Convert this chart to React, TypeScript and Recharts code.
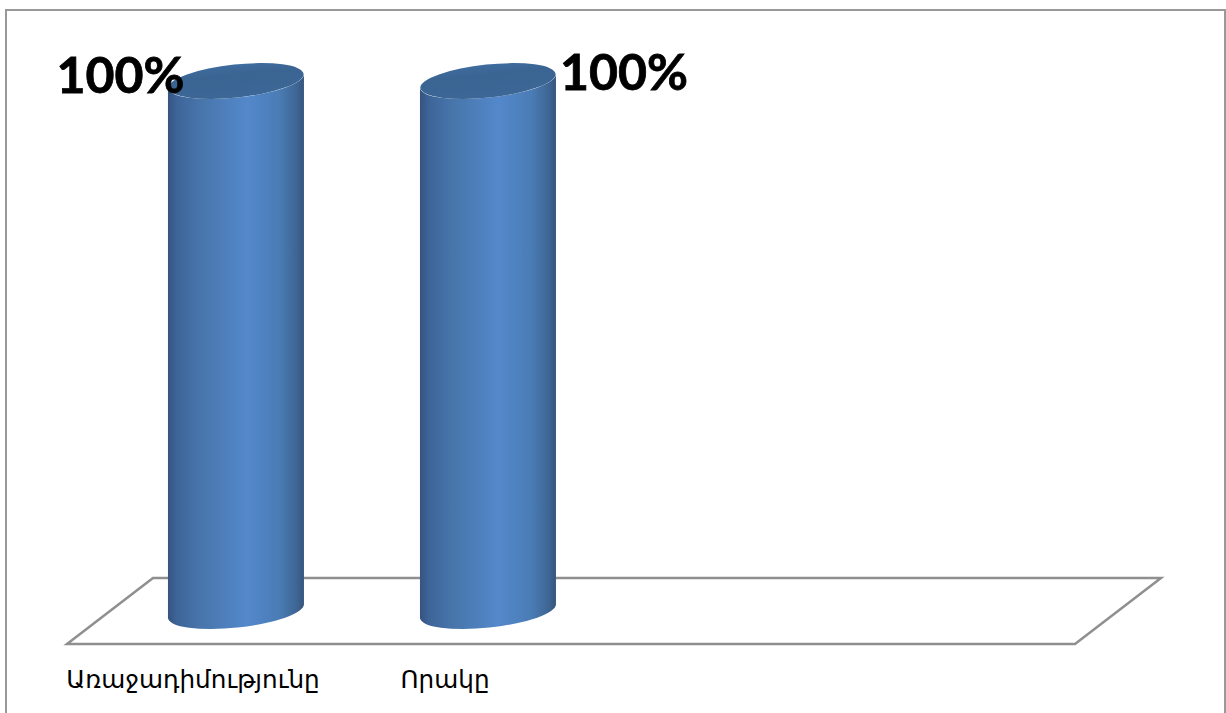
import { Bar, BarChart, LabelList, XAxis, YAxis, usePlotArea } from "recharts";

const categories = ["Առաջադիմությունը", "Որակը", "", ""];
const values = [1, 1, null, null];
const chartData = categories.map((name, i) => ({ name, value: values[i] }));

const DEPTH_X = 43;
const DEPTH_Y = 33;
const TILT = -6;
const RY = 16.5;

// floor plane of the 3D plot, skewed back to front
function Floor() {
  const plot = usePlotArea();
  if (!plot) return null;
  const bottom = plot.y + plot.height;
  const left = plot.x;
  const right = plot.x + plot.width;
  const points = [
    [left + DEPTH_X, bottom - DEPTH_Y],
    [right + DEPTH_X, bottom - DEPTH_Y],
    [right - DEPTH_X, bottom + DEPTH_Y],
    [left - DEPTH_X, bottom + DEPTH_Y],
  ]
    .map((p) => p.join(","))
    .join(" ");
  return <polygon points={points} fill="#ffffff" stroke="#8f8f8f" strokeWidth={2.5} />;
}

function Cylinder(props: any) {
  const { x, y, width, height } = props;
  if (height == null || height <= 0) return null;
  const cx = x + width / 2;
  const rx = width / 2;
  const rad = (TILT * Math.PI) / 180;
  const dy = Math.sin(rad) * rx;
  const yBottom = y + height;
  const body = `M ${x} ${y - dy} L ${x} ${yBottom - dy}
    A ${rx} ${RY} ${TILT} 0 0 ${x + width} ${yBottom + dy}
    L ${x + width} ${y + dy}
    A ${rx} ${RY} ${TILT} 0 1 ${x} ${y - dy} Z`;
  return (
    <g>
      <path d={body} fill="url(#cylBody)" />
      <ellipse
        cx={cx}
        cy={y}
        rx={rx}
        ry={RY}
        transform={`rotate(${TILT} ${cx} ${y})`}
        fill="url(#cylTop)"
      />
    </g>
  );
}

// the two labels were dragged by hand in the original, so each has its own offset
const labelShiftX = [-115.5, 136];
const labelShiftY = [12, 9];

function PercentLabel(props: any) {
  const { x, y, width, index } = props;
  return (
    <text
      x={x + width / 2 + labelShiftX[index]}
      y={y + labelShiftY[index]}
      textAnchor="middle"
      fontFamily="Lato, sans-serif"
      fontWeight={700}
      fontSize={50}
      stroke="#000000"
      strokeWidth={0.8}
      fill="#000000"
    >
      100%
    </text>
  );
}

function CategoryTick(props: any) {
  const { x, y, payload } = props;
  return (
    <text
      x={x - DEPTH_X}
      y={y}
      textAnchor="middle"
      fontFamily="'DejaVu Sans', sans-serif"
      fontSize={24.7}
      fill="#000000"
    >
      {payload.value}
    </text>
  );
}

export default function App() {
  return (
    <div style={{ position: "absolute", left: 0, top: 0, width: 1226, height: 713, background: "#ffffff" }}>
      <div
        style={{
          position: "absolute",
          left: 5,
          top: 9,
          width: 1221,
          height: 704,
          borderTop: "2px solid #999999",
          borderRight: "2px solid #999999",
          borderLeft: "2px solid #999999",
          boxSizing: "border-box",
        }}
      />
      <BarChart
        width={1226}
        height={713}
        data={chartData}
        margin={{ top: 81, right: 108, bottom: 0, left: 110 }}
        barCategoryGap="23%"
        style={{ position: "absolute", left: 0, top: 0 }}
      >
        <defs>
          <linearGradient id="cylBody" x1="0" x2="1" y1="0" y2="0">
            <stop offset="0%" stopColor="#36547f" />
            <stop offset="7%" stopColor="#3e659a" />
            <stop offset="25%" stopColor="#4876ab" />
            <stop offset="58%" stopColor="#5388cb" />
            <stop offset="82%" stopColor="#4a7cb5" />
            <stop offset="95%" stopColor="#3d6593" />
            <stop offset="100%" stopColor="#35557c" />
          </linearGradient>
          <linearGradient id="cylTop" x1="0" x2="0" y1="0" y2="1">
            <stop offset="0%" stopColor="#3f6c9e" />
            <stop offset="30%" stopColor="#3a6492" />
            <stop offset="100%" stopColor="#3c6796" />
          </linearGradient>
        </defs>
        <Floor />
        <XAxis
          dataKey="name"
          axisLine={false}
          tickLine={false}
          interval={0}
          height={102}
          tickMargin={71}
          tick={<CategoryTick />}
        />
        <YAxis hide domain={[0, 1]} />
        <Bar dataKey="value" isAnimationActive={false} shape={<Cylinder />}>
          <LabelList dataKey="value" content={<PercentLabel />} />
        </Bar>
      </BarChart>
    </div>
  );
}
